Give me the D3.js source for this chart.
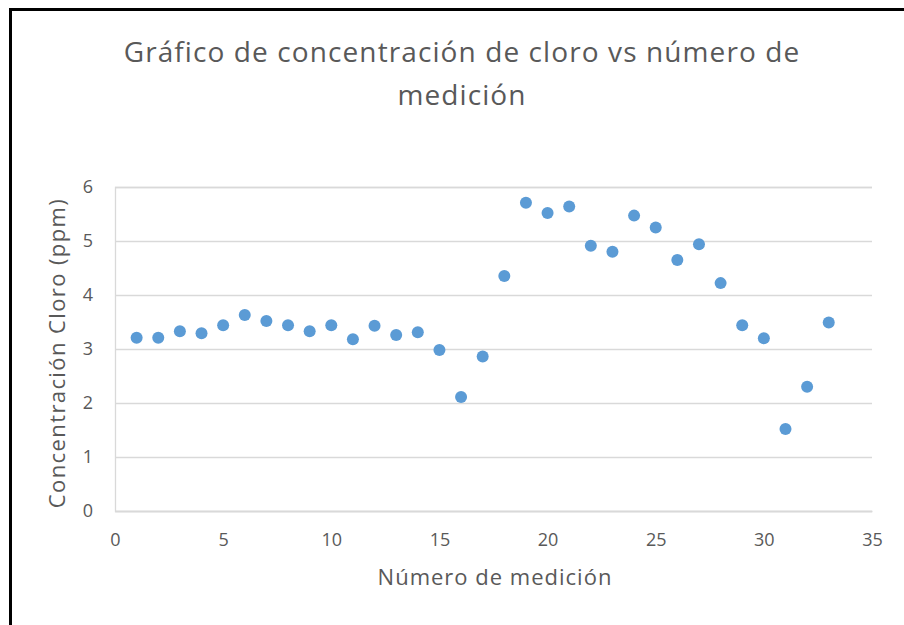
<!DOCTYPE html>
<html>
<head>
<meta charset="utf-8">
<script src="https://cdn.jsdelivr.net/npm/d3@7/dist/d3.min.js"></script>
<style>
  html, body { margin: 0; padding: 0; background: #fff; }
  svg { display: block; }
  text { font-family: "Open Sans", "Noto Sans", sans-serif; fill: #595959; }
</style>
</head>
<body>
<svg id="chart" width="904" height="625"></svg>
<script>
// Measurement number (x) and chlorine concentration in ppm (y)
const medicion = [1, 2, 3, 4, 5, 6, 7, 8, 9, 10, 11, 12, 13, 14, 15, 16, 17,
                  18, 19, 20, 21, 22, 23, 24, 25, 26, 27, 28, 29, 30, 31, 32, 33];
const cloro = [3.21, 3.21, 3.33, 3.29, 3.44, 3.63, 3.52, 3.44, 3.33, 3.44, 3.18, 3.43,
               3.26, 3.31, 2.98, 2.11, 2.86, 4.35, 5.71, 5.52, 5.64, 4.91, 4.80, 5.47,
               5.25, 4.65, 4.94, 4.22, 3.44, 3.20, 1.52, 2.30, 3.49];
const xTicks = [0, 5, 10, 15, 20, 25, 30, 35];
const yTicks = [0, 1, 2, 3, 4, 5, 6];
const titleLines = ["Gráfico de concentración de cloro vs número de", "medición"];
const xTitle = "Número de medición";
const yTitle = "Concentración Cloro (ppm)";

const svg = d3.select("#chart");

// chart frame (left and top edges)
svg.append("line").attr("x1", 10.5).attr("y1", 9.5).attr("x2", 904).attr("y2", 9.5)
  .attr("stroke", "#000").attr("stroke-width", 3);
svg.append("line").attr("x1", 10.5).attr("y1", 8).attr("x2", 10.5).attr("y2", 625)
  .attr("stroke", "#000").attr("stroke-width", 3);

const plot = { left: 115, right: 872, top: 187, bottom: 511 };
const x = d3.scaleLinear().domain([0, 35]).range([plot.left, plot.right]);
const y = d3.scaleLinear().domain([0, 6]).range([plot.bottom, plot.top]);

// horizontal gridlines and y tick labels
const yAxis = d3.axisLeft(y).tickValues(yTicks).tickSize(-(plot.right - plot.left))
  .tickPadding(22).tickFormat(d3.format("d"));
const gy = svg.append("g").attr("transform", `translate(${plot.left},0)`).call(yAxis);
gy.select(".domain").attr("stroke", "#d9d9d9").attr("stroke-width", 1.3);
gy.selectAll(".tick line").attr("stroke", "#d9d9d9").attr("stroke-width", 1.3);
gy.selectAll(".tick text").style("font-size", "18px").attr("fill", "#595959");

// x axis line and tick labels
const xAxis = d3.axisBottom(x).tickValues(xTicks).tickSize(0).tickPadding(22)
  .tickFormat(d3.format("d"));
const gx = svg.append("g").attr("transform", `translate(0,${plot.bottom})`).call(xAxis);
gx.select(".domain").attr("stroke", "#d9d9d9").attr("stroke-width", 1.3);
gx.selectAll(".tick text").style("font-size", "18px").attr("fill", "#595959");

// data points
svg.append("g").selectAll("circle")
  .data(medicion.map((m, i) => ({ m, c: cloro[i] })))
  .join("circle")
  .attr("cx", d => x(d.m))
  .attr("cy", d => y(d.c))
  .attr("r", 6)
  .attr("fill", "#5b9bd5");

// title
svg.append("g").selectAll("text").data(titleLines).join("text")
  .attr("x", 462).attr("y", (d, i) => 62 + i * 43)
  .attr("text-anchor", "middle")
  .style("font-size", "28px")
  .style("letter-spacing", "1.1px")
  .text(d => d);

// axis titles
svg.append("text").attr("x", 495).attr("y", 585)
  .attr("text-anchor", "middle").style("font-size", "22px")
  .style("letter-spacing", "1px").text(xTitle);
svg.append("text").attr("transform", "translate(65,353) rotate(-90)")
  .attr("text-anchor", "middle").style("font-size", "22px")
  .style("letter-spacing", "1.4px").text(yTitle);
</script>
</body>
</html>
